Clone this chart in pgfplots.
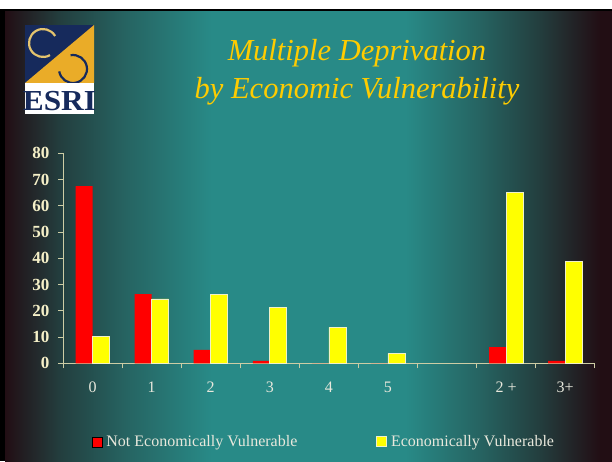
\documentclass[border=0pt]{standalone}
\usepackage{fontspec}
\setmainfont{Liberation Serif}
\usepackage{pgfplots}
\pgfplotsset{compat=1.18}

\definecolor{bgedge}{RGB}{34,14,20}
\definecolor{bgmid}{RGB}{35,62,62}
\definecolor{bgteal}{RGB}{40,138,135}
\definecolor{bgtealb}{RGB}{38,100,98}
\definecolor{axiscol}{RGB}{205,205,165}
\definecolor{ylabcol}{RGB}{245,240,200}
\definecolor{xlabcol}{RGB}{232,232,220}
\definecolor{titlecol}{RGB}{255,204,0}
\definecolor{logonavy}{RGB}{22,42,92}
\definecolor{logogold}{RGB}{234,172,40}
\definecolor{ringlight}{RGB}{228,196,110}
\definecolor{barred}{RGB}{255,0,0}
\definecolor{baryellow}{RGB}{255,255,0}
\definecolor{barline}{RGB}{240,240,200}

% slide background: 25bp..75bp maps to the shaded box
\pgfdeclarehorizontalshading{slidebg}{100bp}{%
  color(0bp)=(bgedge); color(25bp)=(bgedge); color(29.5bp)=(bgmid);
  color(35bp)=(bgtealb); color(42bp)=(bgteal); color(58bp)=(bgteal);
  color(64bp)=(bgtealb); color(69bp)=(bgmid); color(74bp)=(bgedge);
  color(100bp)=(bgedge)}

\begin{document}
\begin{tikzpicture}[x=1pt,y=1pt]
\useasboundingbox (0,0) rectangle (612,-461);
\fill[white] (0,0) rectangle (612,-461);
\fill[black] (0,-9) rectangle (612,-461);
\shade[shading=slidebg] (5,-11.5) rectangle (612,-461);

% logo
\fill[logonavy] (25,-25) rectangle (94,-83);
\fill[logogold] (94,-25) -- (94,-83) -- (25,-83) -- cycle;
\draw[ringlight, line width=2.2pt] (43,-43) ++(30:14) arc (30:300:14);
\draw[logonavy, line width=2.2pt] (73,-69) ++(-170:14) arc (-170:100:14);
\fill[white] (25,-83) rectangle (94,-114);
\node[inner sep=0pt, anchor=base, text=logonavy, xscale=1.08,
      font=\fontsize{29}{29}\selectfont\bfseries] at (59.5,-110) {ESRI};

% title
\node[anchor=base, text=titlecol, font=\fontsize{30.5}{36}\selectfont\itshape,
      inner sep=0pt] at (357,-60.5) {Multiple Deprivation};
\node[anchor=base, text=titlecol, font=\fontsize{30.5}{36}\selectfont\itshape,
      inner sep=0pt] at (357,-98.3) {by Economic Vulnerability};

\begin{axis}[
  at={(63pt,-363.3pt)}, anchor=south west,
  scale only axis, width=531.7pt, height=210pt,
  xmin=-0.5, xmax=8.5, ymin=0, ymax=80,
  axis x line*=bottom, axis y line*=left,
  axis line style={draw=axiscol, line width=0.9pt},
  every tick/.style={draw=axiscol, line width=0.9pt},
  tick align=outside, major tick length=5pt, minor tick length=5pt,
  xtick={0,...,8},
  xticklabels={0,1,2,3,4,5,,2 +,3+},
  major x tick style={draw=none},
  minor xtick={-0.5,0.5,...,8.5},
  ytick={0,10,...,80},
  /pgf/number format/assume math mode=true,
  yticklabel style={font=\fontsize{17}{17}\selectfont\bfseries, text=ylabcol, xshift=-5pt},
  xticklabel style={font=\fontsize{16}{16}\selectfont, text=xlabcol, yshift=-10pt},
  ybar=0pt, bar width=17pt,
  legend style={at={(axis description cs:0.0545,-0.374)}, anchor=west,
    draw=none, fill=none, inner sep=0pt,
    font=\fontsize{16}{19}\selectfont, text=xlabcol,
    nodes={inner sep=2pt},
    /tikz/every even column/.append style={column sep=77pt}},
  legend columns=2,
  legend image code/.code={\draw[#1] (0pt,-5pt) rectangle (10pt,5pt); \path (12pt,0pt);},
]
\addplot[fill=barred, draw=none] coordinates {
  (0,67.5) (1,26.4) (2,5.1) (3,0.9) (4,0) (5,0) (7,6.2) (8,0.9)
};
\addplot[fill=baryellow, draw=barline, line width=0.7pt] coordinates {
  (0,10.1) (1,24.5) (2,26.3) (3,21.4) (4,13.7) (5,3.7) (7,65.1) (8,38.7)
};
\legend{Not Economically Vulnerable, Economically Vulnerable}
\end{axis}
\end{tikzpicture}
\end{document}
